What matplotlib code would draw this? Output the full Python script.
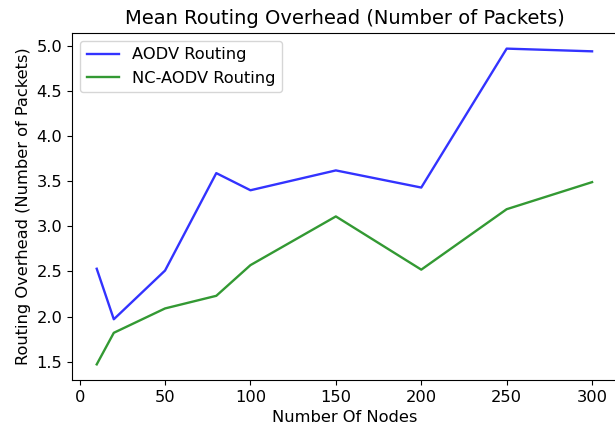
import matplotlib
matplotlib.use("Agg")
import matplotlib.pyplot as plt

nodes = [10, 20, 50, 80, 100, 150, 200, 250, 300]
aodv = [2.53, 1.97, 2.51, 3.59, 3.40, 3.62, 3.43, 4.97, 4.94]
nc_aodv = [1.47, 1.82, 2.09, 2.23, 2.57, 3.11, 2.52, 3.19, 3.49]

plt.rcParams['font.size'] = 11.7

fig, ax = plt.subplots(figsize=(6.15, 4.32), dpi=100)
# the original picture is cut off just left of the right spine
fig.subplots_adjust(left=0.117, right=1.003, top=0.924, bottom=0.12)

ax.plot(nodes, aodv, color='b', alpha=0.8, lw=1.7, label='AODV Routing')
ax.plot(nodes, nc_aodv, color='g', alpha=0.8, lw=1.7, label='NC-AODV Routing')

ax.set_title('Mean Routing Overhead (Number of Packets)')
ax.set_xlabel('Number Of Nodes')
ax.set_ylabel('Routing Overhead (Number of Packets)')
ax.legend(loc='upper left')

plt.savefig('out.png', dpi=100)
